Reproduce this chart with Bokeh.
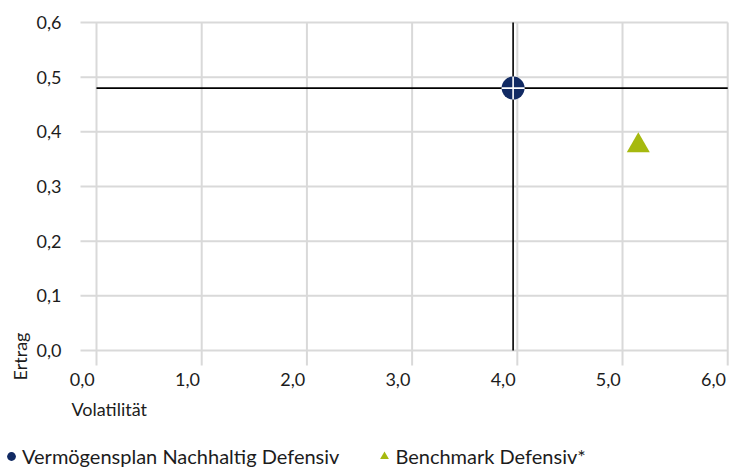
from math import pi

from bokeh.embed import file_html
from bokeh.resources import INLINE
from bokeh.plotting import figure
from bokeh.models import (Range1d, FixedTicker, CustomJSTickFormatter, Label,
                          Legend, LegendItem, ColumnDataSource)

# --- data -------------------------------------------------------------
x_ticks = [0, 1, 2, 3, 4, 5, 6]
y_ticks = [0.0, 0.1, 0.2, 0.3, 0.4, 0.5, 0.6]

fund_name = "Vermögensplan Nachhaltig Defensiv"
fund_vol = [3.96]
fund_ret = [0.48]

bench_name = "Benchmark Defensiv*"
bench_vol = [5.15]
bench_ret = [0.375]

x_title = "Volatilität"
y_title = "Ertrag"

# --- styling ----------------------------------------------------------
FONT = "Lato"
TEXT = "#1c1c1c"
NAVY = "#112a63"
OLIVE = "#a6b90f"
GRID = "#d9d9d9"

# the drawing area covers the whole canvas; axes are pinned inside it
X0, Y0 = -0.152, -0.0274          # where the axes sit (left / bottom edge of the grid)
p = figure(width=745, height=468, output_backend="svg", toolbar_location=None,
           title=None,
           x_range=Range1d(-0.9125, 6.169), y_range=Range1d(-0.2158, 0.6402),
           min_border=0)
p.outline_line_color = None
p.background_fill_color = "white"
p.border_fill_color = "white"
p.xgrid.visible = False
p.ygrid.visible = False

# grid lines: vertical ones run down past the zero line, horizontal ones
# start left of the zero column, like tick marks
x_max, y_max = x_ticks[-1], y_ticks[-1]
p.segment(x0=x_ticks, y0=[Y0] * len(x_ticks), x1=x_ticks, y1=[y_max] * len(x_ticks),
          line_color=GRID, line_width=2)
p.segment(x0=[X0] * len(y_ticks), y0=y_ticks, x1=[x_max] * len(y_ticks), y1=y_ticks,
          line_color=GRID, line_width=2)

# x labels sit a little left of their grid lines
x_shift = 0.135
p.xaxis.fixed_location = Y0
p.yaxis.fixed_location = X0
p.xaxis.ticker = FixedTicker(ticks=[t - x_shift for t in x_ticks])
p.xaxis.formatter = CustomJSTickFormatter(
    args=dict(s=x_shift),
    code="return Math.round(tick + s).toFixed(1).replace('.', ',');")
p.yaxis.ticker = FixedTicker(ticks=y_ticks)
p.yaxis.formatter = CustomJSTickFormatter(
    code="return tick.toFixed(1).replace('.', ',');")

for ax in (p.xaxis, p.yaxis):
    ax.axis_line_color = None
    ax.major_tick_line_color = None
    ax.minor_tick_line_color = None
    ax.major_tick_out = 0
    ax.major_tick_in = 0
    ax.major_label_text_font = FONT
    ax.major_label_text_font_size = "18px"
    ax.major_label_text_color = TEXT
p.xaxis.major_label_standoff = 8
p.yaxis.major_label_standoff = 19

# crosshair through the fund's point
p.segment(x0=[fund_vol[0]], y0=[y_ticks[0]], x1=[fund_vol[0]], y1=[y_max],
          line_color="black", line_width=1.6)
p.segment(x0=[x_ticks[0]], y0=[fund_ret[0]], x1=[x_max], y1=[fund_ret[0]],
          line_color="black", line_width=1.6)

fund_src = ColumnDataSource(dict(x=fund_vol, y=fund_ret))
bench_src = ColumnDataSource(dict(x=bench_vol, y=bench_ret))

r_fund = p.scatter("x", "y", source=fund_src, marker="circle", size=23,
                   fill_color=NAVY, line_color=None)
p.scatter("x", "y", source=fund_src, marker="cross", size=23,
          line_color="white", line_width=1.6)
r_bench = p.scatter("x", "y", source=bench_src, marker="triangle", size=23,
                    fill_color=OLIVE, line_color=None)

# axis titles, placed at the start of each axis (screen px from bottom-left)
p.add_layout(Label(x=71, y=60, x_units="screen", y_units="screen", text=x_title,
                   text_font=FONT, text_font_size="18px", text_color=TEXT,
                   text_baseline="middle", text_align="left"))
p.add_layout(Label(x=19, y=112, x_units="screen", y_units="screen", text=y_title,
                   angle=pi / 2, text_font=FONT, text_font_size="18px",
                   text_color=TEXT, text_baseline="middle", text_align="center"))

legend = Legend(items=[LegendItem(label=fund_name, renderers=[r_fund]),
                       LegendItem(label=bench_name, renderers=[r_bench])],
                location=(0, 0), orientation="horizontal",
                glyph_width=22, glyph_height=24, label_standoff=0, spacing=34,
                padding=0, margin=0, border_line_color=None,
                background_fill_alpha=0,
                label_text_font=FONT, label_text_font_size="20px",
                label_text_color=TEXT)
p.add_layout(legend, "center")

open("out.html", "w").write(file_html(p, INLINE))
